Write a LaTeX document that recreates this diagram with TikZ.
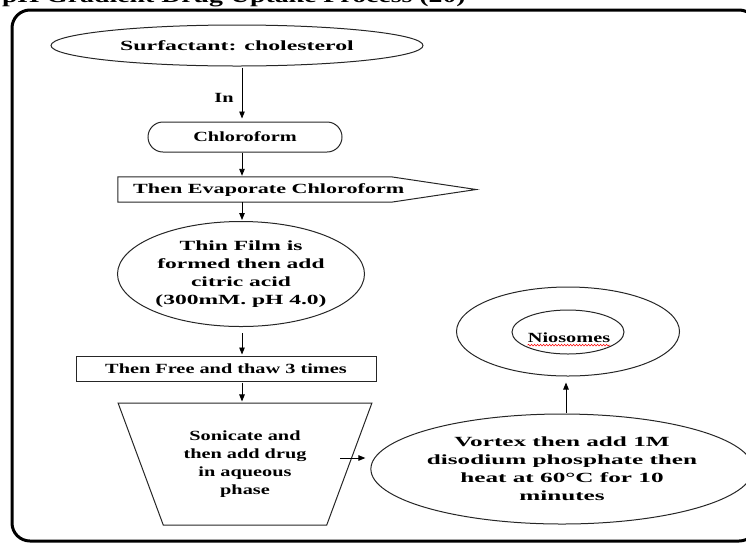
\documentclass[tikz,border=0pt]{standalone}
\usepackage{fontspec}
\setmainfont{Liberation Serif}[FakeStretch=1.45]
\newfontfamily\titlefont{Liberation Serif}[FakeStretch=1.39]
\newfontfamily\wideS{Liberation Serif}[FakeStretch=1.7]
\newfontfamily\wideF{Liberation Serif}[FakeStretch=1.68]
\newfontfamily\wideV{Liberation Serif}[FakeStretch=1.8]
\newfontfamily\wideE{Liberation Serif}[FakeStretch=1.58]
\usetikzlibrary{shapes.geometric,arrows.meta,calc,decorations.pathmorphing}
\begin{document}
\begin{tikzpicture}[x=1pt,y=-1pt,
  every node/.style={font=\bfseries\fontsize{14}{18}\selectfont, inner sep=0pt},
  txt/.style={align=center},
  shp/.style={draw=black!85, line width=1pt},
  arr/.style={-{Triangle[length=7pt,width=5.5pt]}, line width=0.9pt},
]
\useasboundingbox (0,0) rectangle (746,542);
\clip (0,0) rectangle (746,542);
\node[font=\titlefont\bfseries\fontsize{20}{24}\selectfont, anchor=base west] (title) at (2,2.5) {pH Gradient Drug Uptake Process (20)};
\draw[line width=3pt, rounded corners=18pt] (12,10) rectangle (757,541);

\coordinate (col) at (242,0);
\coordinate (col2) at (566,0);

\node[shp, txt, ellipse, minimum width=372pt, minimum height=41pt, font=\wideS\bfseries\fontsize{14}{18}\selectfont] (surf) at (237,45.5) {Surfactant: cholesterol};
\node (in) at (224,98) {In};
\node[shp, rectangle, rounded corners=15pt, minimum width=194pt, minimum height=30pt] (chl) at (245,137) {Chloroform};
\node[minimum width=273pt, minimum height=25pt] (evap) at (254.5,189.5) {};
\draw[shp] (evap.north west) -- (evap.north east) -- ($(evap.east)+(85,0)$) -- (evap.south east) -- (evap.south west) -- cycle;
\node[anchor=west, font=\wideE\bfseries\fontsize{14}{18}\selectfont] (evaptext) at (133,190) {Then Evaporate Chloroform};
\node[shp, txt, ellipse, minimum width=247pt, minimum height=105pt, font=\wideF\bfseries\fontsize{14}{18}\selectfont] (film) at (241,274) {Thin Film is\\formed then add\\citric acid\\(300mM. pH 4.0)};
\node[shp, rectangle, minimum width=300pt, minimum height=25pt] (ft) at (226,368.5) {Then Free and thaw 3 times};
\node[shp, txt, trapezium, shape border rotate=180, trapezium left angle=63, trapezium right angle=63, trapezium stretches=true, minimum width=254pt, minimum height=122pt] (son) at (245,464) {Sonicate and\\then add drug\\in aqueous\\phase};
\node[shp, txt, ellipse, minimum width=348pt, minimum height=110pt, font=\wideV\bfseries\fontsize{14}{18}\selectfont] (vort) at (562,469) {Vortex then add 1M\\disodium phosphate then\\heat at 60°C for 10\\minutes};
\node[shp, ellipse, minimum width=223pt, minimum height=89pt] (outer) at (568,331.5) {};
\node[shp, ellipse, minimum width=112pt, minimum height=44pt] (inner) at (568,332) {};
\node (nio) at (569,338) {Niosomes};
\draw[red, line width=0.6pt, decorate, decoration={snake, amplitude=0.8pt, segment length=3pt}] ($(nio.south west)+(0,2)$) -- ($(nio.south east)+(0,2)$);

\draw[arr] ($(surf.south -| col)+(0,1)$) -- ($(chl.north -| col)+(0,-3)$);
\draw[arr] (chl.south -| col) -- ($(evap.north -| col)+(0,-1)$);
\draw[arr] (evap.south -| col) -- ($(film.north -| col)+(0,-1)$);
\draw[arr] ($(film.south -| col)+(0,6)$) -- ($(ft.north -| col)+(0,-1)$);
\draw[arr] ($(ft.south -| col)+(0,1)$) -- ($(son.north -| col)+(0,-1)$);
\draw[arr] ($(son.center)+(95,-6)$) -- ($(vort.west)+(-5,-11)$);
\draw[arr] ($(vort.north -| col2)+(0,-1)$) -- ($(outer.south -| col2)+(0,6)$);
\end{tikzpicture}
\end{document}
